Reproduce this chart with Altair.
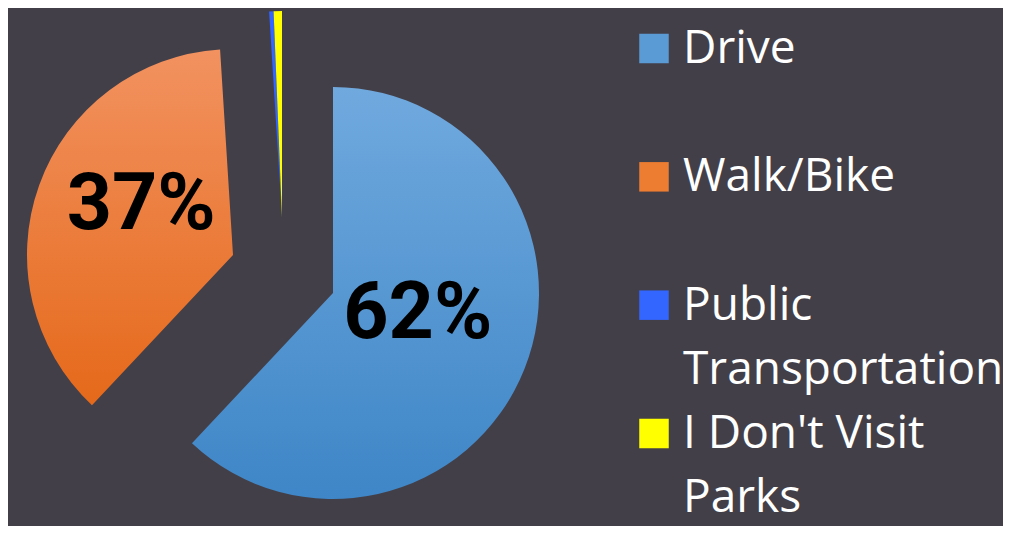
import math
import altair as alt
import pandas as pd

# ---- data ----
categories = ["Drive", "Walk/Bike", "Public Transportation", "I Don't Visit Parks"]
values = [62, 37, 0.35, 0.65]
legend_labels = ["Drive", "Walk/Bike", "Public\nTransportation", "I Don't Visit\nParks"]
colors = ["#5b9bd5", "#ed7d31", "#3366ff", "#ffff00"]

total = sum(values)
ends = list(pd.Series(values).cumsum())
starts = [e - v for e, v in zip(ends, values)]
df = pd.DataFrame({
    "category": categories,
    "value": values,
    "start": starts,
    "end": ends,
    "mid": [(s + e) / 2 for s, e in zip(starts, ends)],
    "legend": legend_labels,
})
df["pct"] = [f"{round(v)}%" for v in values]

R = 206
theta_scale = alt.Scale(domain=[0, total], range=[0, 2 * math.pi])
color_scale = alt.Scale(domain=categories, range=colors)
base = alt.Chart(df)


def grad(top, bottom):
    return alt.LinearGradient(
        gradient="linear", x1=0, y1=0, x2=0, y2=1,
        stops=[alt.GradientStop(offset=0, color=top),
               alt.GradientStop(offset=1, color=bottom)])


def only(cats):
    return alt.FieldOneOfPredicate(field="category", oneOf=cats)


drive = base.mark_arc(radius=R, color=grad("#70a9de", "#3e86c7")).encode(
    theta=alt.Theta("start:Q", scale=theta_scale), theta2="end:Q",
    x=alt.value(325), y=alt.value(285),
).transform_filter(only(["Drive"]))

walk = base.mark_arc(radius=R, color=grad("#f29260", "#e5691a")).encode(
    theta=alt.Theta("start:Q", scale=theta_scale), theta2="end:Q",
    x=alt.value(225), y=alt.value(247),
).transform_filter(only(["Walk/Bike"]))

small = base.mark_arc(radius=R).encode(
    theta=alt.Theta("start:Q", scale=theta_scale), theta2="end:Q",
    x=alt.value(274), y=alt.value(209),
    color=alt.Color("category:N", scale=color_scale, legend=None),
).transform_filter(only(["Public Transportation", "I Don't Visit Parks"]))

label_style = dict(font="Roboto", fontSize=79, fontWeight="bold", color="black",
                   align="center", baseline="middle")
drive_lbl = base.mark_text(radius=88, dx=3, dy=-11, **label_style).encode(
    theta=alt.Theta("mid:Q", scale=theta_scale), text="pct:N",
    x=alt.value(325), y=alt.value(285),
).transform_filter(only(["Drive"]))

walk_lbl = base.mark_text(radius=105, dx=7, dy=-14, **label_style).encode(
    theta=alt.Theta("mid:Q", scale=theta_scale), text="pct:N",
    x=alt.value(225), y=alt.value(247),
).transform_filter(only(["Walk/Bike"]))

legend_y = alt.Y("category:N", sort=categories, axis=None,
                 scale=alt.Scale(type="point", padding=0, range=[55, 440]))

leg_sq = base.mark_square(size=870, opacity=1, yOffset=-14.5).encode(
    x=alt.value(646), y=legend_y,
    color=alt.Color("category:N", scale=color_scale, legend=None),
)
leg_txt = base.mark_text(align="left", baseline="alphabetic", font="Open Sans",
                         fontSize=46, color="white", lineBreak="\n",
                         lineHeight=64).encode(
    x=alt.value(675), y=legend_y, text="legend:N",
)

chart = alt.layer(drive, walk, small, drive_lbl, walk_lbl, leg_sq, leg_txt).properties(
    width=995, height=518, padding=0, background="#433f48",
    autosize=alt.AutoSizeParams(type="fit", contains="padding"),
).configure_view(stroke=None)

chart.save("out.html", embed_options={"renderer": "svg", "actions": False})
